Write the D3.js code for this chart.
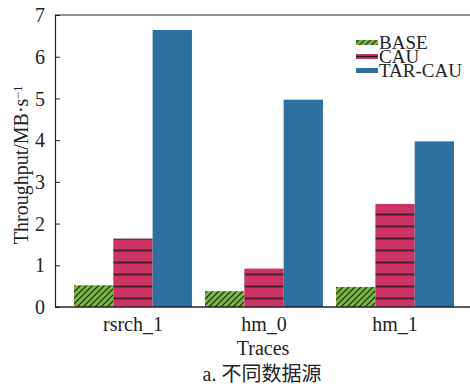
<!DOCTYPE html>
<html>
<head>
<meta charset="utf-8">
<script src="https://cdn.jsdelivr.net/npm/d3@7"></script>
<style>
  html, body { margin: 0; padding: 0; background: #fff; }
  svg { display: block; }
</style>
</head>
<body>
<svg id="chart" width="470" height="387"></svg>
<script>
// Throughput per trace for each scheme
const categories = ["rsrch_1", "hm_0", "hm_1"];
const seriesNames = ["BASE", "CAU", "TAR-CAU"];
const baseValues = [0.52, 0.38, 0.48];
const cauValues = [1.64, 0.92, 2.47];
const tarCauValues = [6.64, 4.97, 3.97];
const yTicks = [0, 1, 2, 3, 4, 5, 6, 7];

const FONT = "'Liberation Serif', 'Times New Roman', 'DejaVu Serif', 'Noto Sans CJK SC', serif";
const INK = "#222";

const series = [
  { name: "BASE", values: baseValues, fill: "url(#hatchDiag)" },
  { name: "CAU", values: cauValues, fill: "url(#hatchHoriz)" },
  { name: "TAR-CAU", values: tarCauValues, fill: "#2d6f9e" }
];

const svg = d3.select("#chart");
const margin = { left: 55, top: 15, bottom: 307, right: 473 };

// Fill patterns
const defs = svg.append("defs");
const diag = defs.append("pattern")
  .attr("id", "hatchDiag")
  .attr("patternUnits", "userSpaceOnUse")
  .attr("width", 6).attr("height", 6);
diag.append("rect").attr("width", 6).attr("height", 6).attr("fill", "#7ab547");
diag.append("path")
  .attr("d", "M-1,1 L1,-1 M0,6 L6,0 M5,7 L7,5")
  .attr("stroke", "#1a1a1a").attr("stroke-width", 1.1);

const horiz = defs.append("pattern")
  .attr("id", "hatchHoriz")
  .attr("patternUnits", "userSpaceOnUse")
  .attr("width", 12).attr("height", 12)
  .attr("y", 4.5);
horiz.append("rect").attr("width", 12).attr("height", 12).attr("fill", "#cd3264");
horiz.append("line")
  .attr("x1", 0).attr("x2", 12).attr("y1", 6).attr("y2", 6)
  .attr("stroke", "#1a1a1a").attr("stroke-width", 1.5);

const x0 = d3.scaleBand()
  .domain(categories)
  .range([margin.left, margin.right])
  .paddingInner(0.1)
  .paddingOuter(0.145);

const x1 = d3.scaleBand()
  .domain(seriesNames)
  .range([0, x0.bandwidth()]);

const y = d3.scaleLinear()
  .domain([0, 7])
  .range([margin.bottom, margin.top]);

// Bars
const groups = svg.append("g").selectAll("g")
  .data(series)
  .join("g");

groups.selectAll("rect")
  .data(s => s.values.map((v, i) => ({ name: s.name, cat: categories[i], v, fill: s.fill })))
  .join("rect")
  .attr("x", d => x0(d.cat) + x1(d.name))
  .attr("y", d => y(d.v))
  .attr("width", x1.bandwidth())
  .attr("height", d => y(0) - y(d.v))
  .attr("fill", d => d.fill);

// Top frame line
svg.append("line")
  .attr("x1", margin.left).attr("x2", 470)
  .attr("y1", y(7)).attr("y2", y(7))
  .attr("stroke", INK).attr("stroke-width", 1.2);

// Y axis with inward ticks
const yAxis = svg.append("g")
  .attr("transform", `translate(${margin.left},0)`)
  .call(d3.axisLeft(y).tickValues(yTicks).tickFormat(d3.format("d"))
    .tickSize(-5).tickPadding(10).tickSizeOuter(0))
  .attr("font-family", FONT);
yAxis.select(".domain").attr("stroke", INK).attr("stroke-width", 1.2);
yAxis.selectAll(".tick line").attr("stroke", INK);
yAxis.selectAll(".tick text")
  .attr("fill", INK)
  .style("font-family", FONT)
  .style("font-size", "20px")
  .attr("dy", "0.33em");

// X axis
const xAxis = svg.append("g")
  .attr("transform", `translate(0,${margin.bottom})`)
  .call(d3.axisBottom(x0).tickSize(0).tickPadding(10).tickSizeOuter(0))
  .attr("font-family", FONT);
xAxis.select(".domain").attr("d", `M${margin.left},0H470`).attr("stroke", INK).attr("stroke-width", 1.5);
xAxis.selectAll(".tick text")
  .attr("fill", INK)
  .style("font-family", FONT)
  .style("font-size", "20px");

// Axis titles
function label(x, yPos, txt) {
  return svg.append("text")
    .attr("x", x).attr("y", yPos)
    .attr("text-anchor", "middle")
    .attr("fill", INK)
    .style("font-family", FONT)
    .style("font-size", "20px")
    .text(txt);
}
label(263, 355, "Traces");
label(262, 381, "a. 不同数据源");

const yLabel = svg.append("text")
  .attr("transform", "translate(28,165) rotate(-90)")
  .attr("text-anchor", "middle")
  .attr("fill", INK)
  .style("font-family", FONT)
  .style("font-size", "20px");
yLabel.append("tspan").text("Throughput/MB·s");
yLabel.append("tspan").attr("dy", "-0.5em").style("font-size", "12px").text("−1");

// Legend
const legend = svg.append("g").selectAll("g")
  .data(series)
  .join("g")
  .attr("transform", (d, i) => `translate(356,${42.5 + i * 14})`);
legend.append("rect")
  .attr("x", 0).attr("y", -2.5)
  .attr("width", 22).attr("height", 5)
  .attr("fill", d => d.name === "CAU" ? "#cd3264" : d.fill);
legend.filter(d => d.name === "CAU").append("line")
  .attr("x1", 0).attr("x2", 22).attr("y1", 0).attr("y2", 0)
  .attr("stroke", "#1a1a1a").attr("stroke-width", 1.3);
legend.append("text")
  .attr("x", 23).attr("y", 0)
  .attr("dy", "0.34em")
  .attr("fill", INK)
  .style("font-family", FONT)
  .style("font-size", "19px")
  .text(d => d.name);
</script>
</body>
</html>
